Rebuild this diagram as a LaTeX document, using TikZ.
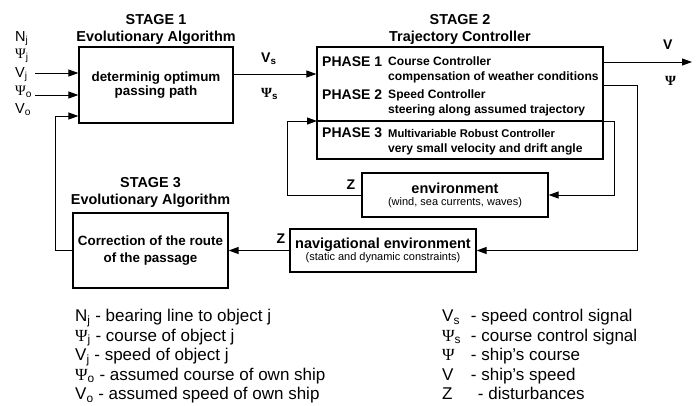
\documentclass[tikz,border=0pt]{standalone}
\usepackage[no-math]{fontspec}
\setmainfont{Liberation Sans}
\newfontfamily\grk{Liberation Serif}
\usetikzlibrary{arrows.meta}

\newcommand{\Ps}{{\grk Ψ}}
\newcommand{\sub}[1]{\textsubscript{#1}}
\newcommand{\fs}[2]{\fontsize{#1bp}{#2bp}\selectfont}

\begin{document}
\begin{tikzpicture}[x=1bp, y=-1bp,
  blk/.style={draw, line width=1.2bp, inner sep=0pt, align=center},
  arr/.style={line width=1bp, -{Triangle[length=10bp,width=7bp]}},
  ttl/.style={font=\fs{14.4}{17}\bfseries, align=center, inner sep=0pt},
  phs/.style={font=\fs{14}{17}\bfseries, inner sep=0pt, anchor=base west},
  dsc/.style={font=\fs{12.1}{15.5}\bfseries, inner sep=0pt, anchor=base west, align=left},
  sig/.style={font=\fs{14}{17}\bfseries, inner sep=0pt, anchor=base west},
  inp/.style={font=\fs{14.5}{18}, inner sep=0pt, anchor=base west},
  leg/.style={font=\fs{17}{19.5}, inner sep=0pt, anchor=base west, align=left}]
\useasboundingbox (0,0) rectangle (696,405);

% stages
\node[blk, minimum width=154bp, minimum height=76bp, font=\fs{13.4}{14.5}\bfseries] (s1) at (156,85) {determinig optimum\\passing path};
\node[ttl, anchor=south, yshift=2bp] (t1) at (s1.north) {STAGE 1\\Evolutionary Algorithm};

\node[blk, minimum width=286bp, minimum height=112bp] (s2) at (460,103) {};
\node[ttl, anchor=south, yshift=2bp] (t2) at (s2.north) {STAGE 2\\Trajectory Controller};

\node[blk, minimum width=155bp, minimum height=75bp, font=\fs{13.4}{17}\bfseries] (s3) at (150.5,250.5) {Correction of the route\\of the passage};
\node[ttl, anchor=south, yshift=5bp] (t3) at (s3.north) {STAGE 3\\Evolutionary Algorithm};

% phases (base = last line)
\node[phs] (ph1) at (322,66) {PHASE 1};
\node[dsc] (d1) at (388,80.5) {Course Controller\\compensation of weather conditions};
\node[phs] (ph2) at (322,99) {PHASE 2};
\node[dsc] (d2) at (388,113.5) {Speed Controller\\steering along assumed trajectory};
\node[phs] (ph3) at (322,137) {PHASE 3};
\node[dsc] (d3) at (388,152.5) {{\fs{11.2}{15}Multivariable Robust Controller}\\very small velocity and drift angle};
\coordinate (p3) at (317,121);
\draw[line width=1.2bp] (p3) -- (p3 -| s2.east);

% environments
\node[blk, minimum width=186bp, minimum height=44bp] (env) at (455,195)
  {{\fs{14.5}{15}\bfseries environment}\\{\fs{11}{14}(wind, sea currents, waves)}};
\node[blk, minimum width=186bp, minimum height=43bp] (nav) at (383,250.5)
  {{\fs{14.5}{15}\bfseries navigational environment}\\{\fs{11}{14}(static and dynamic constraints)}};

% inputs
\node[inp] (nj) at (15,41) {N\sub{j}};
\node[inp] (psj) at (15,58) {\Ps\sub{j}};
\node[inp] (vj) at (15,77) {V\sub{j}};
\node[inp] (pso) at (15,95) {\Ps\sub{o}};
\node[inp] (vo) at (15,113) {V\sub{o}};
\coordinate (in1) at (35,73);
\coordinate (in2) at (35,95);
\coordinate (fb) at (55,116);
\draw[arr] (in1) -- (in1 -| s1.west);
\draw[arr] (in2) -- (in2 -| s1.west);
\draw[arr] (s3.west) -| (fb) -- (fb -| s1.west);

% signals
\draw[arr] ([yshift=11bp]s1.east) -- ([yshift=11bp]s1.east -| s2.west);
\node[sig] (vs) at (261,62) {V\sub{s}};
\node[sig] (pss) at (261,97) {{\grk\bfseries Ψ}\sub{s}};
\coordinate (vout) at (692,62);
\coordinate (psicn) at (637,85);
\draw[arr] (vout -| s2.east) -- (vout);
\node[sig] (v) at (663,49) {V};
\node[sig] (ps) at (665,85) {\grk\bfseries Ψ};
\draw[arr] (psicn -| s2.east) -- (psicn) |- (nav.east);
\draw[arr] (p3 -| s2.east) -- ++(11,0) |- (env.east);
\draw[arr] (env.west) -- ++(-74,0) |- (p3);
\draw[arr] (nav.west) -- (nav.west -| s3.east);
\node[sig, anchor=center] (z1) at (351,184.5) {Z};
\node[sig, anchor=center] (z2) at (281,238.5) {Z};

% legend (base = last line)
\node[leg] (legl) at (75,399.5) {N\sub{j} - bearing line to object j\\
  \Ps\sub{j} - course of object j\\
  V\sub{j} - speed of object j\\
  \Ps\sub{o} - assumed course of own ship\\
  V\sub{o} - assumed speed of own ship};
\node[leg] (legr) at (442,399.5) {\makebox[24bp][l]{V\sub{s}} - speed control signal\\
  \makebox[24bp][l]{\Ps\sub{s}} - course control signal\\
  \makebox[24bp][l]{\Ps} - ship's course\\
  \makebox[24bp][l]{V} - ship's speed\\
  \makebox[31bp][l]{Z} - disturbances};
\end{tikzpicture}
\end{document}
